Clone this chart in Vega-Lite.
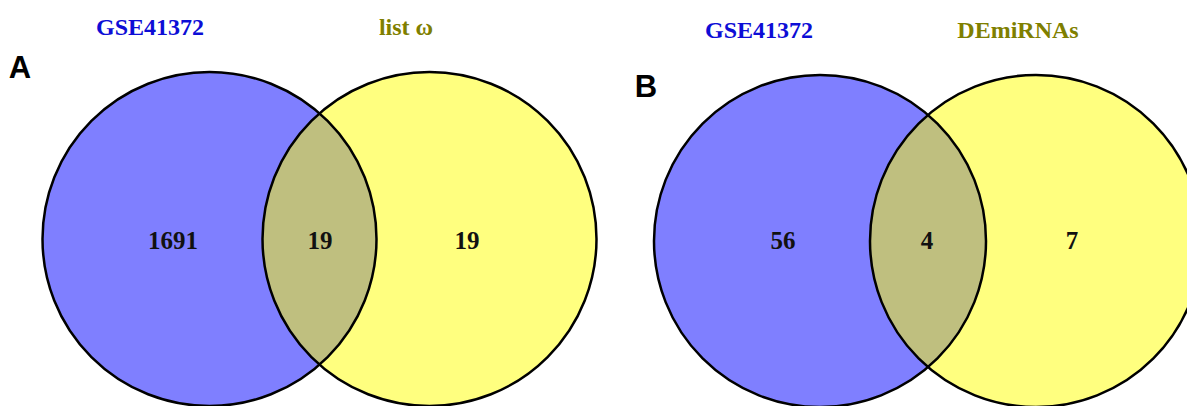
{
  "$schema": "https://vega.github.io/schema/vega-lite/v6.json",
  "width": 1187,
  "height": 406,
  "padding": 0,
  "autosize": {"type": "none"},
  "background": "white",
  "config": {"view": {"stroke": null}},
  "datasets": {
    "circles": [
      {"panel": "A", "set": "GSE41372", "side": "left", "cx": 209.5, "cy": 239, "r": 167},
      {"panel": "A", "set": "list ω", "side": "right", "cx": 429.5, "cy": 239, "r": 167},
      {"panel": "B", "set": "GSE41372", "side": "left", "cx": 820, "cy": 241, "r": 166},
      {"panel": "B", "set": "DEmiRNAs", "side": "right", "cx": 1036, "cy": 241, "r": 166}
    ],
    "titles": [
      {"panel": "A", "text": "GSE41372", "side": "left", "x": 150, "y": 35},
      {"panel": "A", "text": "list ω", "side": "right", "x": 406, "y": 35},
      {"panel": "B", "text": "GSE41372", "side": "left", "x": 759, "y": 38},
      {"panel": "B", "text": "DEmiRNAs", "side": "right", "x": 1018, "y": 38}
    ],
    "counts": [
      {"panel": "A", "region": "GSE41372 only", "count": 1691, "x": 173, "y": 249},
      {"panel": "A", "region": "both", "count": 19, "x": 320, "y": 249},
      {"panel": "A", "region": "list ω only", "count": 19, "x": 467, "y": 249},
      {"panel": "B", "region": "GSE41372 only", "count": 56, "x": 783, "y": 249},
      {"panel": "B", "region": "both", "count": 4, "x": 927, "y": 249},
      {"panel": "B", "region": "DEmiRNAs only", "count": 7, "x": 1072, "y": 249}
    ],
    "panels": [
      {"panel": "A", "x": 20, "y": 78},
      {"panel": "B", "x": 646, "y": 97}
    ]
  },
  "layer": [
    {
      "data": {"name": "circles"},
      "mark": {"type": "point", "shape": "circle", "filled": true, "fillOpacity": 0.5, "strokeWidth": 0, "clip": true},
      "encoding": {
        "x": {"field": "cx", "type": "quantitative", "scale": {"domain": [0, 1187], "range": [0, 1187], "nice": false, "zero": false}, "axis": null},
        "y": {"field": "cy", "type": "quantitative", "scale": {"domain": [0, 406], "range": [0, 406], "nice": false, "zero": false}, "axis": null},
        "size": {"field": "r", "type": "quantitative", "scale": {"type": "pow", "exponent": 2, "domain": [0, 200], "range": [0, 160000], "nice": false}, "legend": null},
        "fill": {"field": "side", "type": "nominal", "scale": {"domain": ["left", "right"], "range": ["#0000ff", "#ffff00"]}, "legend": null}
      }
    },
    {
      "data": {"name": "circles"},
      "mark": {"type": "point", "shape": "circle", "filled": false, "stroke": "black", "strokeWidth": 2.5, "opacity": 1, "clip": true},
      "encoding": {
        "x": {"field": "cx", "type": "quantitative"},
        "y": {"field": "cy", "type": "quantitative"},
        "size": {"field": "r", "type": "quantitative"}
      }
    },
    {
      "data": {"name": "titles"},
      "mark": {"type": "text", "font": "Liberation Serif", "fontWeight": "bold", "fontSize": 24, "align": "center", "baseline": "alphabetic"},
      "encoding": {
        "x": {"field": "x", "type": "quantitative"},
        "y": {"field": "y", "type": "quantitative"},
        "text": {"field": "text"},
        "color": {"field": "side", "type": "nominal", "scale": {"domain": ["left", "right"], "range": ["#0d0dd6", "#7f7f00"]}, "legend": null}
      }
    },
    {
      "data": {"name": "counts"},
      "mark": {"type": "text", "font": "Liberation Serif", "fontWeight": "bold", "fontSize": 25, "align": "center", "baseline": "alphabetic", "color": "#111111"},
      "encoding": {
        "x": {"field": "x", "type": "quantitative"},
        "y": {"field": "y", "type": "quantitative"},
        "text": {"field": "count"}
      }
    },
    {
      "data": {"name": "panels"},
      "mark": {"type": "text", "font": "Liberation Sans", "fontWeight": "bold", "fontSize": 31, "align": "center", "baseline": "alphabetic", "color": "black"},
      "encoding": {
        "x": {"field": "x", "type": "quantitative"},
        "y": {"field": "y", "type": "quantitative"},
        "text": {"field": "panel"}
      }
    }
  ]
}
